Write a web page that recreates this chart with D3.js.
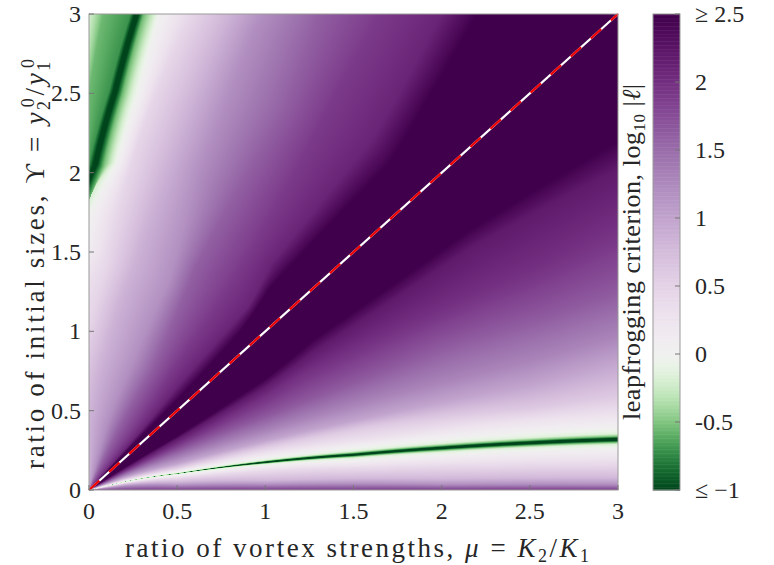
<!DOCTYPE html>
<html><head><meta charset="utf-8">
<script src="https://cdn.jsdelivr.net/npm/d3@7"></script>
<style>
body{margin:0;background:#fff}
svg{display:block}
text{font-family:"Liberation Serif","DejaVu Serif",serif;fill:#262626}
</style>
</head><body>
<svg id="chart" width="774" height="565"></svg>
<script>
// ---------- data ----------
const xTicks = [0, 0.5, 1, 1.5, 2, 2.5, 3];
const yTicks = [0, 0.5, 1, 1.5, 2, 2.5, 3];
const cbTicks = [-1, -0.5, 0, 0.5, 1, 1.5, 2, 2.5];
const cbTickLabels = ["≤ −1", "-0.5", "0", "0.5", "1", "1.5", "2", "≥ 2.5"];
const diagonal = [[0, 0], [3, 3]];

// value of log10|l| along each contour line (ordered from the mu-axis to the Upsilon-axis)
const levels = [1.9, 1.2, 0.8, 0.4, 0.05, -0.15, -0.55, -1, -1, -0.55, -0.15, 0.05, 0.3, 0.6, 1.0, 1.3, 1.65, 2.0, 2.2, 2.5,
                2.5, 2.1, 1.9, 1.6, 1.2, 0.85, 0.45, 0.0, -0.2, -0.55, -1, -1, -0.7, -0.55, -0.2, -0.1];
// contour lines, points [mu, Upsilon]
const contourLines = [
  [[0.05,0],[4.3,0]],
  [[0.2,0.025],[0.5,0.03],[1,0.035],[2,0.035],[3,0.035],[4.3,0.035]],
  [[0.2,0.035],[0.5,0.05],[1,0.06],[2,0.07],[3,0.075],[4.3,0.08]],
  [[0.2,0.042],[0.5,0.075],[1,0.12],[1.6,0.14],[2.3,0.155],[3,0.165],[4.3,0.18]],
  [[0.2,0.048],[0.5,0.092],[1,0.152],[1.5,0.182],[2,0.214],[2.5,0.24],[3,0.256],[4.3,0.3]],
  [[0.2,0.051],[0.5,0.1],[1,0.163],[1.5,0.202],[2,0.239],[2.5,0.268],[3,0.287],[4.3,0.335]],
  [[0.2,0.052],[0.5,0.1022],[1,0.168],[1.5,0.211],[2,0.251],[2.5,0.281],[3,0.301],[4.3,0.35]],
  [[0.2,0.052],[0.5,0.103],[1,0.172],[1.5,0.218],[2,0.26],[2.5,0.291],[3,0.312],[4.3,0.362]],
  [[0.2,0.052],[0.5,0.103],[1,0.178],[1.5,0.226],[2,0.27],[2.5,0.303],[3,0.326],[4.3,0.378]],
  [[0.2,0.052],[0.5,0.1038],[1,0.182],[1.5,0.233],[2,0.279],[2.5,0.313],[3,0.337],[4.3,0.39]],
  [[0.2,0.053],[0.5,0.107],[1,0.188],[1.5,0.244],[2,0.293],[2.5,0.33],[3,0.355],[4.3,0.41]],
  [[0.2,0.055],[0.5,0.114],[1,0.205],[1.5,0.272],[2,0.33],[2.5,0.37],[3,0.4],[4.3,0.46]],
  [[0.2,0.06],[0.5,0.125],[1,0.235],[1.6,0.32],[2.2,0.41],[3,0.48],[4.3,0.56]],
  [[0.2,0.067],[0.5,0.14],[1,0.27],[1.6,0.4],[2.5,0.51],[3,0.59],[4.3,0.75]],
  [[0.2,0.078],[0.5,0.165],[1,0.31],[1.6,0.46],[2.5,0.66],[3,0.81],[4.3,1.1]],
  [[0.2,0.09],[0.5,0.2],[1,0.37],[1.6,0.56],[2.5,0.81],[3,0.97],[4.3,1.35]],
  [[0.2,0.105],[0.5,0.245],[1,0.46],[1.6,0.72],[2,0.9],[2.6,1.1],[3,1.25],[4.3,1.7]],
  [[0.2,0.12],[0.5,0.29],[1,0.59],[1.2,0.73],[2,1.15],[2.56,1.42],[3,1.68],[4.3,2.4]],
  [[0.2,0.13],[0.5,0.32],[1,0.65],[1.27,0.87],[2.16,1.52],[3,2.02],[4.3,2.9]],
  [[0.2,0.14],[0.5,0.34],[1,0.7],[1.27,0.945],[2.16,1.64],[3,2.2],[4.3,3.2]],
  [[0.2,0.23],[0.52,0.59],[0.86,1.0],[1.03,1.28],[1.7,2.05],[1.92,2.46],[2.12,2.84],[2.3,3.2],[2.6,3.6]],
  [[0.2,0.25],[0.5,0.65],[0.9,1.15],[1.03,1.42],[1.6,2.2],[1.95,2.9],[2.2,3.4]],
  [[0.2,0.3],[0.45,0.72],[0.8,1.3],[1.4,2.5],[1.7,3.1],[2,3.6]],
  [[0.15,0.35],[0.35,0.75],[0.6,1.4],[1.1,2.4],[1.3,3.0],[1.5,3.5]],
  [[0.1,0.4],[0.25,0.8],[0.45,1.3],[0.62,2.0],[0.93,2.9],[1.2,3.4]],
  [[0.0,0.4],[0.1,0.9],[0.25,1.4],[0.5,2.2],[0.8,3.0],[1.1,3.6]],
  [[-0.1,0.5],[0.0,1.05],[0.1,1.4],[0.28,2.2],[0.58,3.0],[0.85,3.7]],
  [[-0.3,1.0],[-0.04,1.5],[0,1.72],[0.08,1.9],[0.16,2.06],[0.28,2.5],[0.4,3.0],[0.52,3.5]],
  [[-0.2,1.4],[-0.02,1.78],[0.04,1.92],[0.13,2.06],[0.24,2.5],[0.37,3.0],[0.5,3.5]],
  [[-0.15,1.5],[0.0,1.82],[0.08,2.04],[0.19,2.5],[0.31,3.0],[0.43,3.5]],
  [[-0.12,1.5],[-0.012,1.9],[0.047,2.05],[0.162,2.52],[0.282,3.0],[0.41,3.5]],
  [[-0.14,1.5],[-0.024,1.9],[0.023,2.05],[0.138,2.52],[0.258,3.0],[0.39,3.5]],
  [[-0.16,1.5],[-0.04,1.9],[0.0,2.05],[0.115,2.52],[0.235,3.0],[0.37,3.5]],
  [[-0.2,1.5],[-0.06,1.9],[-0.02,2.1],[0.0,2.5],[0.08,3.0],[0.2,3.5]],
  [[-0.3,1.5],[-0.12,2.0],[-0.05,2.52],[0.0,3.0],[0.06,3.5]],
  [[-0.5,1.5],[-0.3,2.5],[-0.2,3.5]]
];

// ---------- layout ----------
const svg = d3.select("#chart");
const L = 89, T = 14, W = 529, H = 476;
const x = d3.scaleLinear([0, 3], [0, W]);
const y = d3.scaleLinear([0, 3], [H, 0]);
const cbX = 653, cbW = 27;
const cb = d3.scaleLinear([-1, 2.5], [T + H, T]);

// colour map: green for negative, purple for positive (PRGn)
function colorOf(v) {
  const t = v < 0 ? 0.5 + 0.5 * Math.min(-v, 1) : 0.5 - 0.5 * Math.min(v, 2.5) / 2.5;
  return d3.interpolatePRGn(t);
}

// ---------- field rendering ----------
const K = levels.length;
const fns = contourLines.map(pts => {
  const p = pts.map(([m, u]) => [Math.hypot(m, u), Math.atan2(u, m) * 180 / Math.PI])
               .sort((a, b) => a[0] - b[0]);
  return d3.scaleLinear(p.map(d => d[0]), p.map(d => d[1])).clamp(true);
});
const NR = 2400, rMax = 4.4;
const ang = new Float32Array(NR * K);
for (let i = 0; i < NR; i++) {
  const r = i / (NR - 1) * rMax;
  for (let k = 0; k < K; k++) {
    let a = fns[k](r);
    if (k > 0) a = Math.max(a, ang[i * K + k - 1]);
    ang[i * K + k] = a;
  }
}
const NC = 1401;
const colLut = d3.range(NC).map(i => d3.rgb(colorOf(-1 + 3.5 * i / (NC - 1))));
const canvas = document.createElement("canvas");
canvas.width = W; canvas.height = H;
const ctx = canvas.getContext("2d");
const img = ctx.createImageData(W, H);
for (let j = 0; j < H; j++) {
  const u = y.invert(j + 0.5);
  for (let i = 0; i < W; i++) {
    const m = x.invert(i + 0.5);
    const r = Math.hypot(m, u), phi = Math.atan2(u, m) * 180 / Math.PI;
    const base = Math.min(NR - 1, Math.round(r / rMax * (NR - 1))) * K;
    let v;
    if (phi <= ang[base]) v = levels[0];
    else {
      v = levels[K - 1];
      for (let k = 0; k < K - 1; k++) {
        const a1 = ang[base + k + 1];
        if (phi < a1) {
          const a0 = ang[base + k];
          const t = a1 > a0 ? (phi - a0) / (a1 - a0) : 1;
          v = levels[k] + t * (levels[k + 1] - levels[k]);
          break;
        }
      }
    }
    v = Math.max(-1, Math.min(2.5, v));
    const c = colLut[Math.round((v + 1) / 3.5 * (NC - 1))];
    const o = (j * W + i) * 4;
    img.data[o] = c.r; img.data[o + 1] = c.g; img.data[o + 2] = c.b; img.data[o + 3] = 255;
  }
}
ctx.putImageData(img, 0, 0);

const g = svg.append("g").attr("transform", `translate(${L},${T})`);
g.append("image").attr("x", 0).attr("y", 0).attr("width", W).attr("height", H)
  .attr("preserveAspectRatio", "none").attr("href", canvas.toDataURL());

// diagonal Upsilon = mu : white line with red dashes
const line = d3.line().x(d => x(d[0])).y(d => y(d[1]));
g.append("path").attr("d", line(diagonal)).attr("stroke", "#ffffff").attr("stroke-width", 2.2).attr("fill", "none");
g.append("path").attr("d", line(diagonal)).attr("stroke", "#ee0000").attr("stroke-width", 2.2)
  .attr("stroke-dasharray", "14,13").attr("fill", "none");

// axes frame and ticks
g.append("rect").attr("width", W).attr("height", H).attr("fill", "none").attr("stroke", "#9a9a9a").attr("stroke-width", 1);
g.selectAll(".xt").data(xTicks).join("line").attr("x1", d => x(d)).attr("x2", d => x(d))
  .attr("y1", H).attr("y2", H - 5).attr("stroke", "#777");
g.selectAll(".yt").data(yTicks).join("line").attr("y1", d => y(d)).attr("y2", d => y(d))
  .attr("x1", 0).attr("x2", 5).attr("stroke", "#777");

g.selectAll(".xl").data(xTicks).join("text").attr("x", d => x(d)).attr("y", H + 29)
  .attr("text-anchor", "middle").attr("font-size", 24).text(d => d);
g.selectAll(".yl").data(yTicks).join("text").attr("x", -8).attr("y", d => y(d) + 8)
  .attr("text-anchor", "end").attr("font-size", 24).text(d => d);

function mathText(sel, parts) {
  parts.forEach(p => {
    const t = sel.append("tspan").text(p.t);
    if (p.i) t.attr("font-style", "italic");
    if (p.dx !== undefined) t.attr("dx", p.dx);
    if (p.dy !== undefined) t.attr("dy", p.dy);
    if (p.fs) t.attr("font-size", p.fs);
  });
}
const xt = svg.append("text").attr("x", 357).attr("y", 557).attr("text-anchor", "middle")
  .attr("font-size", 27).attr("textLength", 464).attr("lengthAdjust", "spacing");
mathText(xt, [{t: "ratio of vortex strengths, "}, {t: "μ", i: 1}, {t: " = "}, {t: "K", i: 1},
  {t: "2", dy: 5, fs: 18}, {t: "/", dy: -5}, {t: "K", i: 1}, {t: "1", dy: 5, fs: 18}]);

const yt = svg.append("text").attr("transform", `translate(44,264) rotate(-90)`)
  .attr("text-anchor", "middle").attr("font-size", 27).attr("textLength", 410).attr("lengthAdjust", "spacing");
mathText(yt, [{t: "ratio of initial sizes, "}, {t: "ϒ"}, {t: " = "}, {t: "y", i: 1},
  {t: "2", dy: 6, fs: 18}, {t: "0", dx: -9, dy: -16, fs: 18}, {t: "/", dy: 10}, {t: "y", i: 1},
  {t: "1", dy: 6, fs: 18}, {t: "0", dx: -9, dy: -16, fs: 18}]);

// colour bar
const cbSteps = d3.range(-1, 2.5, 0.01);
svg.append("g").selectAll("rect").data(cbSteps).join("rect")
  .attr("x", cbX).attr("width", cbW)
  .attr("y", d => cb(d + 0.01)).attr("height", d => cb(d) - cb(d + 0.01) + 0.5)
  .attr("fill", d => colorOf(d + 0.005));
svg.append("rect").attr("x", cbX).attr("y", T).attr("width", cbW).attr("height", H)
  .attr("fill", "none").attr("stroke", "#9a9a9a");
svg.selectAll(".cbt").data(cbTicks).join("line").attr("x1", cbX + cbW - 5).attr("x2", cbX + cbW)
  .attr("y1", d => cb(d)).attr("y2", d => cb(d)).attr("stroke", "#777");
svg.selectAll(".cbl").data(cbTicks).join("text").attr("x", cbX + cbW + 15).attr("y", d => cb(d) + 8)
  .attr("font-size", 24).text((d, i) => cbTickLabels[i]);

const ct = svg.append("text").attr("transform", `translate(640,252) rotate(-90)`)
  .attr("text-anchor", "middle").attr("font-size", 26).attr("textLength", 336).attr("lengthAdjust", "spacing");
mathText(ct, [{t: "leapfrogging criterion, log"}, {t: "10", dy: 5, fs: 17}, {t: " |", dy: -5},
  {t: "ℓ", i: 1}, {t: "|"}]);
</script>
</body></html>
